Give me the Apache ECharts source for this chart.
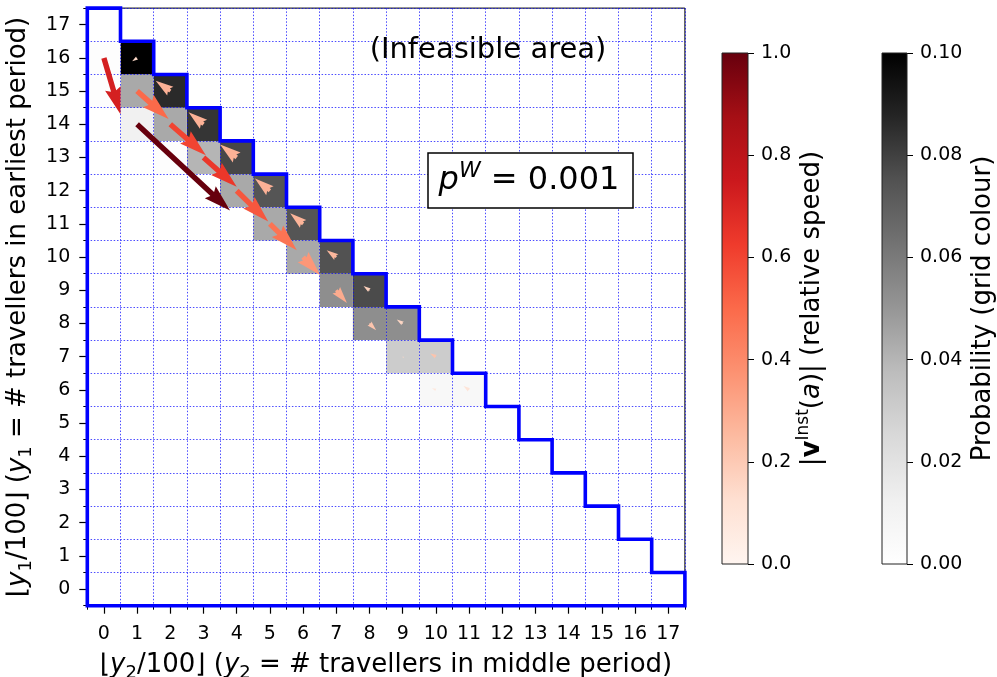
<!DOCTYPE html>
<html><head><meta charset="utf-8">
<script src="https://cdn.jsdelivr.net/npm/echarts@6/dist/echarts.min.js"></script>
<style>html,body{margin:0;padding:0;background:#fff}#c{width:997px;height:677px}</style>
</head><body><div id="c"></div>
<script>
// ---------------- data ----------------
const xTickLabels = ['0','1','2','3','4','5','6','7','8','9','10','11','12','13','14','15','16','17'];
const yTickLabels = ['0','1','2','3','4','5','6','7','8','9','10','11','12','13','14','15','16','17'];
// highest feasible y-cell in each x-column (feasible region boundary)
const columnMaxY = [17,16,15,14,13,12,11,10,9,8,7,6,5,4,3,2,1,0];
// probability cells: [x, y, probability]
const probCells = [
  [1,16,0.100],[2,15,0.086],[3,14,0.083],[4,13,0.078],[5,12,0.074],[6,11,0.074],
  [7,10,0.075],[8,9,0.077],[9,8,0.053],[10,7,0.031],[11,6,0.006],
  [0,16,0.002],[1,15,0.044],[2,14,0.044],[3,13,0.040],[4,12,0.044],[5,11,0.044],
  [6,10,0.044],[7,9,0.053],[8,8,0.053],[9,7,0.031],[10,6,0.006],
  [0,15,0.002],[1,14,0.012],[2,13,0.002]
];
// arrows (instantaneous velocity): [x, y, dx, dy, relative speed]
const arrows = [
  [0,16,0.50,-1.70,0.72],
  [1,15,0.95,-0.84,0.50],
  [1,14,2.80,-2.60,1.00],
  [2,14,1.07,-0.93,0.60],
  [3,13,1.00,-0.88,0.64],
  [4,12,0.95,-0.93,0.55],
  [5,11,0.81,-0.79,0.47],
  [6,10,0.51,-0.54,0.36],
  [7,9,0.32,-0.38,0.30],
  [8,8,0.20,-0.20,0.22],
  [9,7,0.04,-0.04,0.15],
  [10,6,-0.12,0.05,0.08],
  [1,16,-0.15,-0.10,0.15],
  [2,15,-0.44,0.31,0.28],
  [3,14,-0.45,0.36,0.28],
  [4,13,-0.50,0.39,0.28],
  [5,12,-0.45,0.37,0.28],
  [6,11,-0.39,0.32,0.27],
  [7,10,-0.29,0.21,0.26],
  [8,9,-0.18,0.13,0.18],
  [9,8,-0.18,0.12,0.16],
  [10,7,-0.17,0.10,0.22],
  [11,6,-0.17,0.12,0.10]
];
const greysColors = ['#ffffff','#f0f0f0','#d9d9d9','#bdbdbd','#969696','#737373','#525252','#252525','#000000'];
const redsColors  = ['#fff5f0','#fee0d2','#fcbba1','#fc9272','#fb6a4a','#ef3b2c','#cb181d','#a50f15','#67000d'];
const speedRange = [0, 1];
const probRange = [0, 0.1];
const cellEdgeRange = [0, 18]; // cell edges counted from the first edge

// ---------------- chart ----------------
const FONT = 'DejaVu Sans';
const chart = echarts.init(document.getElementById('c'), null, {renderer:'canvas'});

const stairs = [[-0.5,-0.5]];
columnMaxY.forEach((m,i)=>{ stairs.push([i-0.5, m+0.5]); stairs.push([i+0.5, m+0.5]); });
stairs.push([17.5,-0.5]); stairs.push([-0.5,-0.5]);

function gradient(colors){
  return new echarts.graphic.LinearGradient(0,1,0,0, colors.map((c,i)=>({offset:i/(colors.length-1), color:c})));
}

function arrowPoints(p0, p1, w){
  const dx=p1[0]-p0[0], dy=p1[1]-p0[1];
  const L=Math.hypot(dx,dy);
  if (L < 1e-6) return null;
  const ux=dx/L, uy=dy/L, nx=-uy, ny=ux;
  const hl=5*w, hal=4.5*w, hw=1.5*w, sw=0.5*w;
  let loc;
  if (L < hl) {
    const s=L/hl;
    loc=[[0,sw],[0.5*w,sw],[0,hw],[hl,0],[0,-hw],[0.5*w,-sw],[0,-sw]].map(p=>[p[0]*s,p[1]*s]);
  } else {
    loc=[[0,sw],[L-hal,sw],[L-hl,hw],[L,0],[L-hl,-hw],[L-hal,-sw],[0,-sw]];
  }
  return loc.map(p=>[p0[0]+p[0]*ux+p[1]*nx, p0[1]+p[0]*uy+p[1]*ny]);
}

const NS = 26;
const nameStyle = {
  fontSize:NS, fontFamily:FONT, color:'#000', lineHeight:34,
  rich:{
    i:{fontStyle:'italic', fontSize:NS, fontFamily:FONT, lineHeight:34},
    sub:{fontSize:18, fontFamily:FONT, lineHeight:18, verticalAlign:'bottom'},
    sup:{fontSize:17, fontFamily:FONT, lineHeight:17, verticalAlign:'top'},
    b:{fontWeight:'bold', fontSize:NS, fontFamily:FONT, lineHeight:34}
  }
};

const tickLabel = {fontSize:19, fontFamily:FONT, color:'#000'};
const gridLine = {show:true, lineStyle:{color:'rgba(0,0,255,0.7)', width:1, type:[1.5,1.8]}};
const noBounds = {outerBoundsMode:'none', containLabel:false};

const option = {
  animation:false,
  backgroundColor:'#fff',
  grid:[
    Object.assign({left:87.3, top:8.1, width:597.6, height:597.6, show:true, borderColor:'#000', borderWidth:1, backgroundColor:'transparent'}, noBounds),
    Object.assign({left:722, top:53, width:26, height:511, show:false}, noBounds),
    Object.assign({left:882, top:53, width:25, height:511, show:false}, noBounds)
  ],
  xAxis:[
    {type:'value', gridIndex:0, min:-0.5, max:17.5, show:false, position:'top', axisLine:{onZero:false}},
    {type:'category', gridIndex:0, data:xTickLabels, boundaryGap:true, position:'bottom',
      axisLine:{show:true, onZero:false, lineStyle:{color:'#000', width:1}},
      axisTick:{show:true, alignWithLabel:true, interval:0, length:8, lineStyle:{color:'#000', width:1.2}},
      axisLabel:Object.assign({interval:0, margin:19}, tickLabel),
      splitLine:{show:false},
      name:'⌊{i|y}{sub|2}/100⌋ ({i|y}{sub|2} = # travellers in middle period)',
      nameLocation:'middle', nameGap:36, nameTextStyle:nameStyle},
    {type:'value', gridIndex:0, min:cellEdgeRange[0], max:cellEdgeRange[1], interval:1, position:'bottom',
      axisLine:{show:false, onZero:false},
      axisTick:{show:true, length:4, lineStyle:{color:'#000', width:1}},
      axisLabel:{show:false},
      splitLine:gridLine},
    {type:'value', gridIndex:1, min:0, max:1, show:false},
    {type:'value', gridIndex:2, min:0, max:1, show:false}
  ],
  yAxis:[
    {type:'value', gridIndex:0, min:-0.5, max:17.5, show:false, position:'right', axisLine:{onZero:false}},
    {type:'category', gridIndex:0, data:yTickLabels, boundaryGap:true, position:'left',
      axisLine:{show:true, onZero:false, lineStyle:{color:'#000', width:1}},
      axisTick:{show:true, alignWithLabel:true, interval:0, length:8, lineStyle:{color:'#000', width:1.2}},
      axisLabel:Object.assign({interval:0, margin:17}, tickLabel),
      splitLine:{show:false},
      name:'⌊{i|y}{sub|1}/100⌋ ({i|y}{sub|1} = # travellers in earliest period)',
      nameLocation:'middle', nameGap:46, nameTextStyle:nameStyle},
    {type:'value', gridIndex:0, min:cellEdgeRange[0], max:cellEdgeRange[1], interval:1, position:'left',
      axisLine:{show:false, onZero:false},
      axisTick:{show:true, length:4, lineStyle:{color:'#000', width:1}},
      axisLabel:{show:false},
      splitLine:gridLine},
    {type:'value', gridIndex:1, min:speedRange[0], max:speedRange[1], interval:0.2, position:'right',
      axisLine:{show:false, onZero:false},
      axisTick:{show:true, length:6, lineStyle:{color:'#000', width:1}},
      axisLabel:Object.assign({margin:13, formatter:v=>v.toFixed(1)}, tickLabel),
      splitLine:{show:false},
      name:'|{b|v}{sup|Inst}({i|a})| (relative speed)',
      nameLocation:'middle', nameGap:17, nameTextStyle:nameStyle},
    {type:'value', gridIndex:2, min:probRange[0], max:probRange[1], interval:0.02, position:'right',
      axisLine:{show:false, onZero:false},
      axisTick:{show:true, length:6, lineStyle:{color:'#000', width:1}},
      axisLabel:Object.assign({margin:13, formatter:v=>v.toFixed(2)}, tickLabel),
      splitLine:{show:false},
      name:'Probability (grid colour)',
      nameLocation:'middle', nameGap:55, nameTextStyle:nameStyle}
  ],
  visualMap:[
    {type:'continuous', show:false, seriesIndex:0, dimension:2, min:probRange[0], max:probRange[1], inRange:{color:greysColors}},
    {type:'continuous', show:false, seriesIndex:2, dimension:4, min:speedRange[0], max:speedRange[1], inRange:{color:redsColors}}
  ],
  series:[
    { // probability cells
      type:'custom', xAxisIndex:0, yAxisIndex:0, z:-1, silent:true,
      dimensions:['x','y','p'], encode:{x:0, y:1},
      data:probCells,
      renderItem:(params, api)=>{
        const x=api.value(0), y=api.value(1);
        const a=api.coord([x-0.5, y+0.5]), b=api.coord([x+0.5, y-0.5]);
        return {type:'rect', shape:{x:a[0], y:a[1], width:b[0]-a[0], height:b[1]-a[1]},
          style:{fill:api.visual('color')}};
      }
    },
    { // feasible-region boundary
      type:'line', xAxisIndex:0, yAxisIndex:0, data:stairs, symbol:'none', showSymbol:false,
      clip:false, silent:true, z:3,
      lineStyle:{color:'#0000ff', width:3.6, join:'miter', cap:'square'}
    },
    { // arrows
      type:'custom', xAxisIndex:0, yAxisIndex:0, z:4, silent:true, clip:false,
      dimensions:['x','y','u','v','s'], encode:{x:0, y:1},
      data:arrows,
      renderItem:(params, api)=>{
        const x=api.value(0), y=api.value(1), u=api.value(2), v=api.value(3);
        const p0=api.coord([x,y]), p1=api.coord([x+u, y+v]);
        const pts=arrowPoints(p0,p1,5.4);
        if(!pts) return null;
        return {type:'polygon', shape:{points:pts}, style:{fill:api.visual('color'), stroke:null}};
      }
    },
    { // speed colour bar
      type:'custom', xAxisIndex:3, yAxisIndex:3, silent:true,
      data:[[0, speedRange[0], 1, speedRange[1]]],
      renderItem:(params, api)=>{
        const a=api.coord([api.value(0), api.value(1)]), b=api.coord([api.value(2), api.value(3)]);
        return {type:'rect', shape:{x:a[0], y:b[1], width:b[0]-a[0], height:a[1]-b[1]},
          style:{fill:gradient(redsColors), stroke:'#222', lineWidth:1}};
      }
    },
    { // probability colour bar
      type:'custom', xAxisIndex:4, yAxisIndex:4, silent:true,
      data:[[0, probRange[0], 1, probRange[1]]],
      renderItem:(params, api)=>{
        const a=api.coord([api.value(0), api.value(1)]), b=api.coord([api.value(2), api.value(3)]);
        return {type:'rect', shape:{x:a[0], y:b[1], width:b[0]-a[0], height:a[1]-b[1]},
          style:{fill:gradient(greysColors), stroke:'#222', lineWidth:1}};
      }
    }
  ],
  graphic:[
    {type:'text', x:488, y:50, z:10, style:{text:'(Infeasible area)', fontSize:29, fontFamily:FONT, fill:'#000', align:'center', verticalAlign:'middle'}},
    {type:'rect', z:10, shape:{x:428, y:153, width:205, height:55}, style:{fill:'#fff', stroke:'#000', lineWidth:1.5}},
    {type:'text', x:529, y:181, z:11, style:{text:'{i|p}{sup|W} = 0.001', fontSize:32, fontFamily:FONT, fill:'#000', align:'center', verticalAlign:'middle', lineHeight:42,
      rich:{i:{fontStyle:'italic', fontSize:32, fontFamily:FONT, lineHeight:42}, sup:{fontStyle:'italic', fontSize:22, fontFamily:FONT, lineHeight:22, verticalAlign:'top'}}}}
  ]
};
chart.setOption(option);
</script>
</body></html>
